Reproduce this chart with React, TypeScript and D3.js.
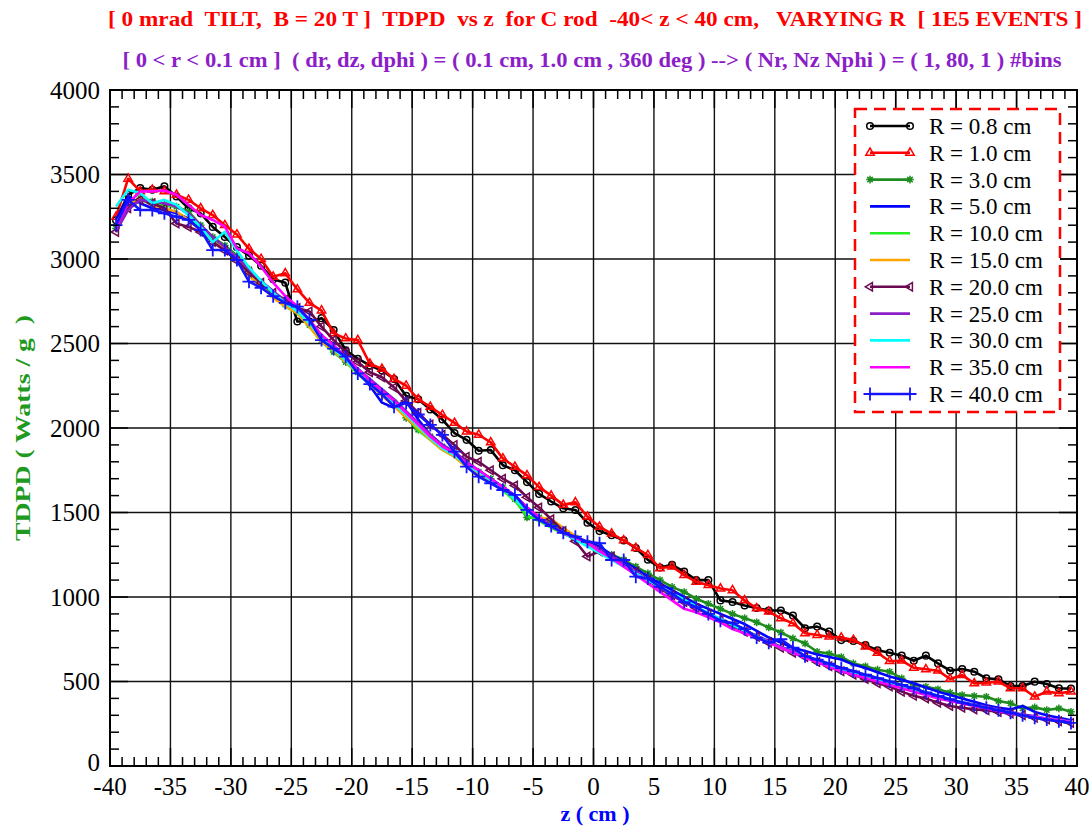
import React from 'react';
import * as d3 from 'd3';

// bin centres: dz = 1.0 cm, 80 bins over -40 < z < 40
const zCenters = d3.range(80).map(i => -39.5 + i);

// TDPD values (Watts / g) read per bin, z = -39.5 ... 39.5
const r08 = [
  3230, 3380, 3420, 3410, 3430, 3370, 3300, 3270, 3190, 3130,
  3070, 3020, 2960, 2880, 2860, 2630, 2630, 2650, 2580, 2460,
  2410, 2370, 2340, 2290, 2190, 2170, 2110, 2050, 1970, 1930,
  1865, 1870, 1780, 1750, 1680, 1610, 1565, 1525, 1515, 1440,
  1390, 1365, 1335, 1290, 1220, 1175, 1190, 1150, 1100, 1100,
  980, 970, 950, 935, 920, 920, 890, 815, 825, 795,
  745, 740, 715, 685, 670, 653, 623, 653, 607, 564,
  574, 558, 519, 513, 473, 473, 499, 485, 460, 458,
];
const r10 = [
  3250, 3475, 3400, 3410, 3400, 3380, 3350, 3300, 3260, 3200,
  3145, 3060, 3000, 2895, 2915, 2820, 2740, 2695, 2560, 2530,
  2520, 2380, 2350, 2290, 2250, 2170, 2125, 2077, 2030, 1979,
  1960, 1915, 1820, 1770, 1720, 1650, 1600, 1545, 1560, 1475,
  1415, 1375, 1335, 1290, 1248, 1170, 1180, 1130, 1090, 1070,
  1050, 1040, 980, 933, 913, 874, 844, 785, 775, 765,
  760, 746, 706, 670, 620, 623, 581, 572, 564, 515,
  538, 489, 493, 499, 460, 460, 410, 440, 430, 440,
];
const r30 = [
  3180, 3320, 3360, 3340, 3320, 3310, 3280, 3200, 3130, 3080,
  3020, 2940, 2860, 2790, 2730, 2690, 2610, 2520, 2450, 2390,
  2330, 2270, 2210, 2150, 2060, 1990, 1950, 1890, 1850, 1790,
  1740, 1700, 1650, 1580, 1470, 1470, 1430, 1390, 1350, 1320,
  1280, 1250, 1220, 1180, 1140, 1100, 1060, 1030, 990, 960,
  930, 900, 875, 850, 820, 790, 755, 725, 676, 665,
  645, 607, 590, 570, 558, 519, 479, 469, 454, 434,
  420, 414, 410, 385, 371, 341, 347, 331, 341, 321,
];
const r50 = [
  3230, 3370, 3330, 3300, 3290, 3270, 3240, 3180, 3110, 3060,
  3000, 2920, 2860, 2800, 2740, 2690, 2620, 2540, 2470, 2400,
  2330, 2250, 2150, 2120, 2160, 2050, 1960, 1900, 1850, 1790,
  1750, 1700, 1650, 1600, 1530, 1470, 1420, 1380, 1350, 1320,
  1300, 1250, 1210, 1170, 1120, 1080, 1040, 1000, 960, 930,
  900, 870, 840, 800, 760, 730, 700, 680, 660, 645,
  630, 600, 580, 555, 530, 510, 490, 465, 440, 420,
  400, 380, 360, 345, 335, 355, 320, 300, 285, 270,
];
const r100 = [
  3200, 3310, 3350, 3330, 3310, 3320, 3260, 3190, 3120, 3070,
  3010, 2930, 2850, 2780, 2720, 2680, 2600, 2510, 2450, 2390,
  2320, 2260, 2200, 2140, 2070, 1985, 1930, 1870, 1830, 1770,
  1730, 1680, 1630, 1570, 1480, 1450, 1410, 1375, 1345, 1310,
  1270, 1240, 1200, 1150, 1100, 1060, 1015, 975, 940, 900,
  870, 840, 805, 770, 740, 705, 675, 650, 625, 600,
  580, 560, 540, 520, 500, 480, 455, 435, 415, 395,
  375, 360, 345, 330, 315, 300, 285, 275, 265, 255,
];
const r150 = [
  3210, 3320, 3360, 3320, 3300, 3280, 3230, 3170, 3100, 3060,
  2990, 2900, 2840, 2770, 2720, 2680, 2600, 2510, 2460, 2390,
  2330, 2260, 2190, 2130, 2060, 2000, 1930, 1870, 1830, 1770,
  1730, 1680, 1640, 1580, 1510, 1470, 1460, 1410, 1360, 1320,
  1280, 1240, 1200, 1150, 1100, 1050, 1010, 970, 935, 900,
  865, 835, 800, 770, 735, 700, 670, 645, 620, 595,
  575, 555, 535, 510, 490, 470, 450, 430, 410, 390,
  370, 355, 340, 330, 315, 300, 290, 275, 265, 255,
];
const r200 = [
  3160, 3300, 3350, 3330, 3300, 3210, 3190, 3160, 3100, 3050,
  2990, 2920, 2860, 2800, 2760, 2710, 2690, 2600, 2520, 2450,
  2390, 2330, 2300, 2240, 2160, 2090, 2020, 1960, 1900, 1830,
  1800, 1750, 1700, 1660, 1590, 1530, 1460, 1390, 1330, 1240,
  1270, 1240, 1200, 1150, 1100, 1050, 1010, 970, 935, 900,
  865, 830, 795, 765, 730, 700, 670, 645, 615, 590,
  560, 540, 515, 490, 470, 440, 415, 400, 375, 355,
  345, 335, 330, 320, 310, 300, 285, 275, 265, 255,
];
const r250 = [
  3170, 3290, 3350, 3340, 3330, 3310, 3270, 3200, 3130, 3070,
  3010, 2940, 2870, 2810, 2750, 2700, 2630, 2550, 2480, 2420,
  2350, 2290, 2230, 2170, 2100, 2030, 1960, 1900, 1860, 1800,
  1750, 1700, 1650, 1600, 1530, 1470, 1420, 1380, 1350, 1320,
  1280, 1240, 1200, 1150, 1100, 1060, 1010, 970, 935, 900,
  870, 840, 805, 770, 740, 705, 680, 650, 625, 600,
  580, 560, 535, 515, 495, 475, 455, 430, 410, 390,
  375, 365, 350, 335, 320, 305, 295, 280, 275, 265,
];
const r300 = [
  3310, 3410, 3390, 3330, 3350, 3320, 3260, 3190, 3100, 3161,
  3050, 2950, 2870, 2800, 2740, 2690, 2620, 2530, 2470, 2400,
  2330, 2260, 2200, 2140, 2080, 2010, 1940, 1880, 1840, 1780,
  1740, 1690, 1640, 1580, 1510, 1460, 1420, 1380, 1340, 1300,
  1260, 1220, 1180, 1140, 1100, 1060, 1020, 985, 945, 905,
  870, 835, 800, 765, 730, 700, 670, 645, 620, 595,
  575, 555, 535, 515, 495, 475, 455, 435, 415, 395,
  375, 360, 345, 330, 315, 300, 290, 280, 270, 260,
];
const r350 = [
  3190, 3330, 3400, 3400, 3405, 3380, 3320, 3260, 3231, 3191,
  3063, 3034, 2955, 2860, 2780, 2720, 2640, 2550, 2490, 2420,
  2350, 2280, 2220, 2160, 2090, 2020, 1950, 1890, 1850, 1790,
  1750, 1700, 1650, 1600, 1530, 1470, 1420, 1380, 1350, 1320,
  1270, 1230, 1180, 1130, 1080, 1030, 980, 930, 910, 880,
  850, 810, 785, 760, 730, 700, 670, 640, 615, 585,
  560, 540, 520, 500, 480, 460, 440, 420, 400, 385,
  370, 355, 340, 325, 310, 300, 290, 280, 270, 260,
];
const r400 = [
  3200, 3350, 3290, 3290, 3270, 3250, 3231, 3172, 3053, 3053,
  2994, 2866, 2830, 2780, 2740, 2718, 2640, 2520, 2470, 2422,
  2323, 2260, 2200, 2126, 2148, 2080, 2018, 1959, 1860, 1771,
  1712, 1673, 1633, 1604, 1515, 1456, 1420, 1380, 1357, 1327,
  1318, 1219, 1219, 1120, 1110, 1060, 1020, 970, 940, 900,
  860, 845, 810, 760, 730, 750, 700, 650, 630, 605,
  580, 560, 540, 520, 500, 480, 460, 435, 415, 395,
  375, 360, 345, 330, 315, 300, 285, 275, 265, 255,
];

const legendLabels = [
  'R = 0.8 cm', 'R = 1.0 cm', 'R = 3.0 cm', 'R = 5.0 cm', 'R = 10.0 cm', 'R = 15.0 cm',
  'R = 20.0 cm', 'R = 25.0 cm', 'R = 30.0 cm', 'R = 35.0 cm', 'R = 40.0 cm',
];
const xTicks = [-40, -35, -30, -25, -20, -15, -10, -5, 0, 5, 10, 15, 20, 25, 30, 35, 40];
const yTicks = [0, 500, 1000, 1500, 2000, 2500, 3000, 3500, 4000];

const seriesValues = [r08, r10, r30, r50, r100, r150, r200, r250, r300, r350, r400];
const seriesStyle = [
  { color: '#000000', marker: 'circle' },
  { color: '#ff0000', marker: 'triUp' },
  { color: '#1e8c1e', marker: 'star' },
  { color: '#0000ff', marker: 'none' },
  { color: '#22ee22', marker: 'none' },
  { color: '#ffa500', marker: 'none' },
  { color: '#6b0a50', marker: 'triLeft' },
  { color: '#8c1ec8', marker: 'none' },
  { color: '#00ffff', marker: 'none' },
  { color: '#ff00ff', marker: 'none' },
  { color: '#1414ff', marker: 'plus' },
];

const FONT = '"Liberation Serif", "Times New Roman", serif';
const PL = 110, PR = 1077, PT = 90, PB = 766;

const x = d3.scaleLinear().domain([-40, 40]).range([PL, PR]);
const y = d3.scaleLinear().domain([0, 4000]).range([PB, PT]);

const markerPath = (m: string) => {
  switch (m) {
    case 'triUp': return 'M0,-4.8L4.2,2.4L-4.2,2.4Z';
    case 'triLeft': return 'M-4.8,0L2.4,-4.2L2.4,4.2Z';
    case 'star': return 'M-3.8,0H3.8M0,-3.8V3.8M-2.7,-2.7L2.7,2.7M-2.7,2.7L2.7,-2.7';
    case 'plus': return 'M-6.5,0H6.5M0,-6.5V6.5';
    default: return '';
  }
};

const Marker = ({ m, cx, cy, color }: { m: string; cx: number; cy: number; color: string }) => {
  if (m === 'none') return null;
  if (m === 'circle')
    return <circle cx={cx} cy={cy} r={3.3} fill="none" stroke={color} strokeWidth={1.5} />;
  return (
    <path d={markerPath(m)} transform={`translate(${cx},${cy})`} fill="none"
      stroke={color} strokeWidth={m === 'plus' ? 1.8 : 1.5} />
  );
};

export default function App() {
  const line = d3.line<number>().x((_, i) => x(zCenters[i])).y(d => y(d));
  const xMinor = d3.range(-40, 41, 1);
  const yMinor = d3.range(0, 4001, 100);

  return (
    <svg width={1091} height={827} style={{ position: 'absolute', left: 0, top: 0, background: '#fff' }}
      fontFamily={FONT}>
      <rect width={1091} height={827} fill="#fff" />

      {/* titles */}
      <text x={595} y={26} textAnchor="middle" fill="#ff0000" fontWeight="bold" fontSize={22}
        textLength={974} lengthAdjust="spacingAndGlyphs" style={{ whiteSpace: 'pre' }}>
        {'[ 0 mrad  TILT,  B = 20 T ]  TDPD  vs z  for C rod  -40< z < 40 cm,   VARYING R  [ 1E5 EVENTS ]'}
      </text>
      <text x={592} y={67} textAnchor="middle" fill="#8c1ec8" fontWeight="bold" fontSize={22}
        textLength={939} lengthAdjust="spacingAndGlyphs" style={{ whiteSpace: 'pre' }}>
        {'[ 0 < r < 0.1 cm ]  ( dr, dz, dphi ) = ( 0.1 cm, 1.0 cm , 360 deg ) --> ( Nr, Nz Nphi ) = ( 1, 80, 1 ) #bins'}
      </text>

      {/* grid */}
      <g stroke="#111" strokeWidth={1.4}>
        {xTicks.slice(1, -1).map(t => <line key={'gx' + t} x1={x(t)} x2={x(t)} y1={PT} y2={PB} />)}
        {yTicks.slice(1, -1).map(t => <line key={'gy' + t} x1={PL} x2={PR} y1={y(t)} y2={y(t)} />)}
      </g>

      {/* data */}
      {seriesValues.map((vals, si) => {
        const st = seriesStyle[si];
        return (
          <g key={'s' + si}>
            <path d={line(vals) || ''} fill="none" stroke={st.color} strokeWidth={2.6} strokeLinejoin="round" />
            {vals.map((v, i) => (
              <Marker key={i} m={st.marker} cx={x(zCenters[i])} cy={y(v)} color={st.color} />
            ))}
          </g>
        );
      })}

      {/* ticks */}
      <g stroke="#000" strokeWidth={1.5}>
        {xMinor.map(t => {
          const len = t % 5 === 0 ? 18 : 9;
          return (
            <g key={'tx' + t}>
              <line x1={x(t)} x2={x(t)} y1={PB} y2={PB - len} />
              <line x1={x(t)} x2={x(t)} y1={PT} y2={PT + len} />
            </g>
          );
        })}
        {yMinor.map(t => {
          const len = t % 500 === 0 ? 18 : 9;
          return (
            <g key={'ty' + t}>
              <line x1={PL} x2={PL + len} y1={y(t)} y2={y(t)} />
              <line x1={PR} x2={PR - len} y1={y(t)} y2={y(t)} />
            </g>
          );
        })}
      </g>
      <rect x={PL} y={PT} width={PR - PL} height={PB - PT} fill="none" stroke="#000" strokeWidth={2} />

      {/* tick labels */}
      <g fontSize={25} fill="#000">
        {xTicks.map(t => (
          <text key={'lx' + t} x={x(t)} y={795} textAnchor="middle">{t}</text>
        ))}
        {yTicks.map(t => (
          <text key={'ly' + t} x={100} y={y(t)} dy={t === 0 ? '0.2em' : '0.35em'} textAnchor="end">{t}</text>
        ))}
      </g>

      {/* axis titles */}
      <text x={595} y={821} textAnchor="middle" fill="#0000ff" fontWeight="bold" fontSize={22}>z ( cm )</text>
      <text transform="translate(30,428) rotate(-90)" textAnchor="middle" fill="#1f9a1f" fontWeight="bold"
        fontSize={22} textLength={226} lengthAdjust="spacingAndGlyphs" style={{ whiteSpace: 'pre' }}>
        {'TDPD ( Watts / g  )'}
      </text>

      {/* legend */}
      <rect x={855} y={109} width={205} height={303} fill="#fff" stroke="#ff0000" strokeWidth={2.5}
        strokeDasharray="12,7" />
      {legendLabels.map((lab, i) => {
        const st = seriesStyle[i];
        const ly = 126 + i * 26.8;
        return (
          <g key={'lg' + i}>
            <line x1={870} x2={910} y1={ly} y2={ly} stroke={st.color} strokeWidth={2.6} />
            <Marker m={st.marker} cx={870} cy={ly} color={st.color} />
            <Marker m={st.marker} cx={910} cy={ly} color={st.color} />
            <text x={929} y={ly} dy="0.35em" fontSize={23} fill="#000">{lab}</text>
          </g>
        );
      })}
    </svg>
  );
}
